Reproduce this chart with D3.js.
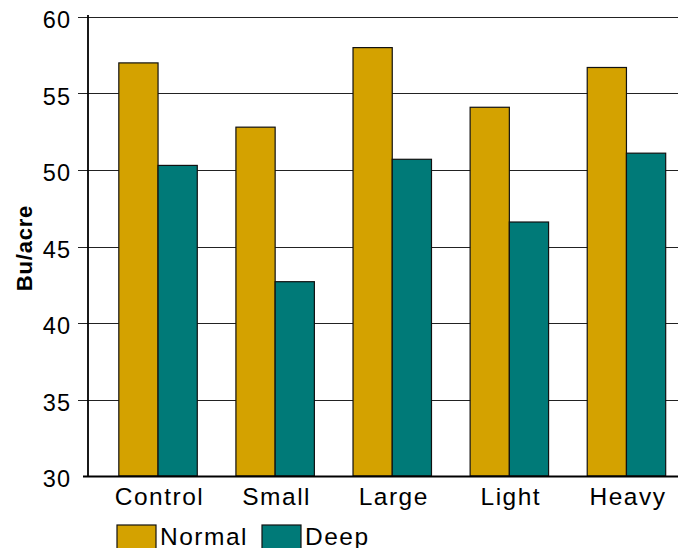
<!DOCTYPE html>
<html><head><meta charset="utf-8">
<script src="https://cdn.jsdelivr.net/npm/d3@7"></script>
<style>body{margin:0;background:#fff}svg{display:block}text{font-family:"Liberation Sans",Arial,sans-serif}</style>
</head><body>
<svg id="c" width="678" height="548"></svg>
<script>
const categories = ["Control","Small","Large","Light","Heavy"];
const seriesNames = ["Normal","Deep"];
const normal = [57.0, 52.8, 58.0, 54.1, 56.7];
const deep = [50.3, 42.7, 50.7, 46.6, 51.1];
const yTicks = [30,35,40,45,50,55,60];
const colors = ["#D4A200","#007A78"];

const svg = d3.select("#c");
const y = d3.scaleLinear().domain([30,60]).range([476,17]);
const x = d3.scaleBand().domain(categories).range([99.5,685]).paddingInner(0.33).paddingOuter(0.165);
const xs = d3.scaleBand().domain(seriesNames).range([0,x.bandwidth()]);

// gridlines
svg.append("g").selectAll("line").data(yTicks.filter(t=>t>30)).join("line")
  .attr("x1",78).attr("x2",678).attr("y1",d=>Math.round(y(d))+0.5).attr("y2",d=>Math.round(y(d))+0.5)
  .attr("stroke","#222").attr("stroke-width",1.2);

// y tick labels
svg.append("g").selectAll("text").data(yTicks).join("text")
  .attr("x",71).attr("y",d=>y(d)+11).attr("text-anchor","end")
  .attr("font-size",23.5).attr("letter-spacing",1).attr("fill","#000").text(d=>d);

// bars
const data = categories.map((c,i)=>({c, vals:[normal[i],deep[i]]}));
const g = svg.append("g").selectAll("g").data(data).join("g")
  .attr("transform",d=>`translate(${x(d.c)},0)`);
g.selectAll("rect").data(d=>d.vals.map((v,j)=>({v,s:seriesNames[j],j}))).join("rect")
  .attr("x",d=>xs(d.s)).attr("width",xs.bandwidth())
  .attr("y",d=>y(d.v)).attr("height",d=>y(30)-y(d.v))
  .attr("fill",d=>colors[d.j]).attr("stroke","#111").attr("stroke-width",1.2);

// axes lines
svg.append("line").attr("x1",88).attr("x2",88).attr("y1",15).attr("y2",476).attr("stroke","#000").attr("stroke-width",1.8);
svg.append("line").attr("x1",83).attr("x2",678).attr("y1",476.5).attr("y2",476.5).attr("stroke","#000").attr("stroke-width",2);

// category labels
svg.append("g").selectAll("text").data(categories).join("text")
  .attr("x",d=>x(d)+x.bandwidth()/2+1.5).attr("y",505).attr("text-anchor","middle")
  .attr("font-size",24.5).attr("letter-spacing",1.5).attr("fill","#000").text(d=>d);

// y label
svg.append("text").attr("transform","translate(32,248) rotate(-90)").attr("text-anchor","middle")
  .attr("font-size",22).attr("font-weight","bold").attr("letter-spacing",0.8).attr("fill","#000").text("Bu/acre");

// legend
const legX = [117, 262];
const lg = svg.append("g").selectAll("g").data(seriesNames).join("g")
  .attr("transform",(d,i)=>`translate(${legX[i]},525)`);
lg.append("rect").attr("width",39).attr("height",30).attr("fill",(d,i)=>colors[i]).attr("stroke","#111").attr("stroke-width",1.2);
lg.append("text").attr("x",43).attr("y",19.5).attr("font-size",24.5).attr("letter-spacing",1.5).attr("fill","#000").text(d=>d);
</script>
</body></html>
